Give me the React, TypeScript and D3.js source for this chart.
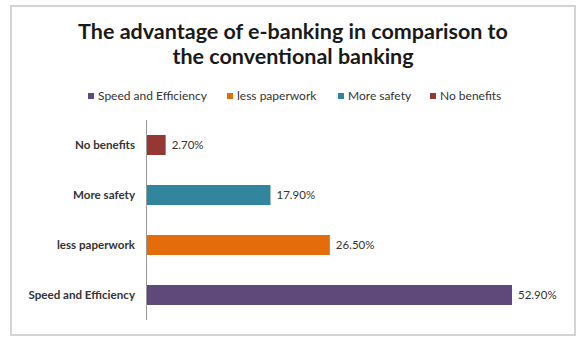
import React from "react";
import * as d3 from "d3";

const categories = ["Speed and Efficiency", "less paperwork", "More safety", "No benefits"];
const values = [52.9, 26.5, 17.9, 2.7];
const colors = ["#5f497a", "#e46c0a", "#31859c", "#953735"];
const titleLines = ["The advantage of e-banking in comparison to", "the conventional banking"];
const legendX = [88, 227, 338, 430];

export default function App() {
  const W = 580, H = 338;
  const x = d3.scaleLinear().domain([0, 52.9]).range([147, 512]);
  const order = [...categories].reverse();
  const y = d3.scaleBand().domain(order).range([120, 320]).paddingInner(0.6).paddingOuter(0.3);
  const font = "Lato, 'Open Sans', sans-serif";
  return (
    <svg width={W} height={H} style={{ position: "absolute", left: 0, top: 0, background: "#fff" }}>
      <rect x={11} y={6} width={564} height={329} fill="#fff" stroke="#d4d4d4" strokeWidth={2} />
      {titleLines.map((t, i) => (
        <text key={i} x={293} y={39 + i * 25} textAnchor="middle" fontFamily={font} fontWeight="bold" fontSize={21.5} fill="#1a1a1a">{t}</text>
      ))}
      {categories.map((c, i) => (
        <g key={c}>
          <rect x={legendX[i]} y={93} width={6} height={6} fill={colors[i]} />
          <text x={legendX[i] + 10} y={100} fontFamily={font} fontSize={12} fill="#333">{c}</text>
        </g>
      ))}
      <line x1={146.5} x2={146.5} y1={120} y2={320} stroke="#999" strokeWidth={1} />
      {categories.map((c, i) => {
        const by = y(c)!;
        const bw = y.bandwidth();
        return (
          <g key={c}>
            <rect x={x(0)} y={by} width={x(values[i]) - x(0)} height={bw} fill={colors[i]} />
            <text x={135} y={by + bw / 2 + 4} textAnchor="end" fontFamily={font} fontWeight="bold" fontSize={11.6} fill="#333">{c}</text>
            <text x={x(values[i]) + 6} y={by + bw / 2 + 4} fontFamily={font} fontSize={11.5} fill="#333">{values[i].toFixed(2) + "%"}</text>
          </g>
        );
      })}
    </svg>
  );
}
